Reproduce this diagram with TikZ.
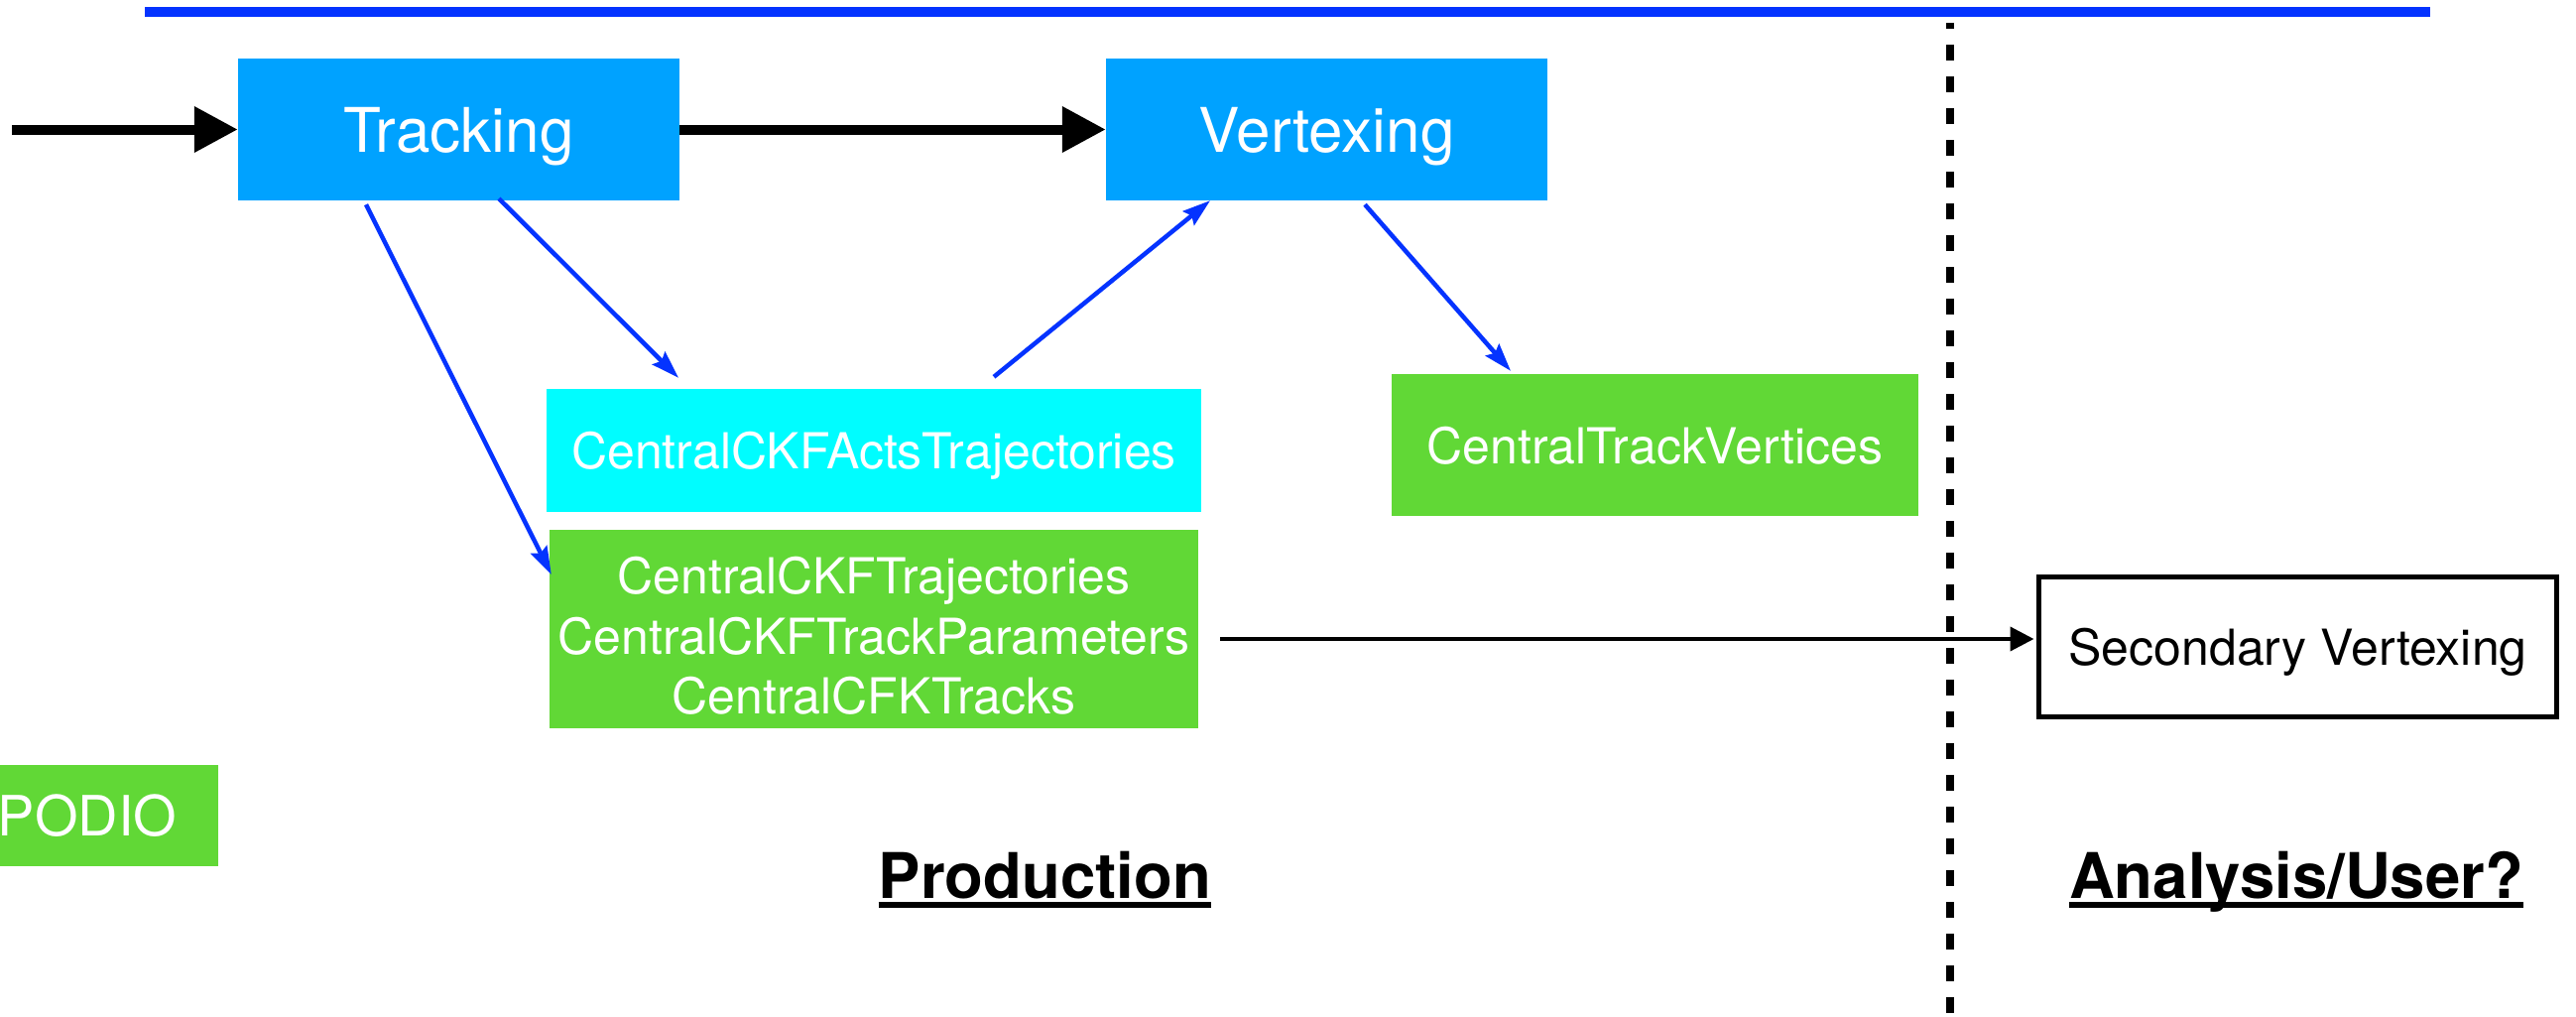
\documentclass[tikz,border=0pt]{standalone}
\usepackage{fontspec}
\setmainfont{TeX Gyre Heros}
\usetikzlibrary{arrows.meta,calc}
\definecolor{trkblue}{HTML}{00A2FF}
\definecolor{actcyan}{HTML}{00FDFF}
\definecolor{kgreen}{HTML}{61D836}
\definecolor{lineblue}{HTML}{0433FF}
\begin{document}
\begin{tikzpicture}[x=1pt,y=-1pt,
  box/.style={inner sep=0pt, text=white, align=center, text depth=0pt},
  algbox/.style={box, fill=trkblue, minimum width=445pt, minimum height=143pt, font=\fontsize{62}{70}\selectfont},
  colbox/.style={box, fill=kgreen, font=\fontsize{50}{60.5}\selectfont},
  flow/.style={line width=10pt, -{Triangle[length=44pt,width=44pt]}},
  dataflow/.style={lineblue, line width=4.5pt, -{Stealth[length=28pt,width=18pt,inset=4pt]}},
  userflow/.style={line width=4pt, -{Triangle[length=24pt,width=24pt]}},
  heading/.style={anchor=base, inner sep=0pt, font=\bfseries\fontsize{63.5}{70}\selectfont},
  uline/.style={line width=6pt}
]
\useasboundingbox (0,0) rectangle (2597,1025);

% top rule
\coordinate (ruleL) at (146,12);
\coordinate (ruleR) at (2450,12);
\draw[lineblue, line width=10.5pt] (ruleL) -- (ruleR);

% separator
\coordinate (sepT) at (1966,23);
\coordinate (sepB) at (1966,1030);
\draw[line width=8pt, dash pattern=on 16pt off 16pt, dash phase=10pt] (sepT) -- (sepB);

% algorithms
\node[algbox] (trk) at (462.5,130.5) {Tracking};
\node[algbox] (vx) at (1337.5,130.5) {Vertexing};

% collections
\node[colbox, fill=actcyan, minimum width=660pt, minimum height=124pt] (cy) at (881,454) {CentralCKFActsTrajectories};
\node[colbox, minimum width=654pt, minimum height=200pt] (gb) at (881,634) {\rule{0pt}{50pt}CentralCKFTrajectories\\CentralCKFTrackParameters\\CentralCFKTracks};
\node[colbox, minimum width=531pt, minimum height=143pt] (tv) at (1668.5,448.5) {CentralTrackVertices};
\node[colbox, minimum width=264pt, minimum height=102pt, font=\fontsize{56}{60}\selectfont] (podio) at (88,822) {PODIO};

% user box
\node[draw, line width=5pt, inner sep=0pt, text depth=0pt, minimum width=522pt, minimum height=141pt, font=\fontsize{50}{60}\selectfont] (sv) at (2316.5,652) {Secondary Vertexing};

% main flow
\coordinate (in) at (12,130.5);
\draw[flow] (in) -- (trk.west);
\draw[flow] (trk.east) -- (vx.west);

% data flow
\draw[dataflow] ([xshift=-93.5pt,yshift=-4pt]trk.south) -- ([xshift=2pt,yshift=55pt]gb.west);
\draw[dataflow] ([xshift=40.5pt,yshift=2pt]trk.south) -- ([xshift=-197pt,yshift=11pt]cy.north);
\draw[dataflow] ([xshift=121pt,yshift=12pt]cy.north) -- ([xshift=-117.5pt]vx.south);
\draw[dataflow] ([xshift=38.5pt,yshift=-4pt]vx.south) -- ([xshift=-145.5pt,yshift=3pt]tv.north);

% to analysis
\draw[userflow] ([xshift=22pt,yshift=-10pt]gb.east) -- ([xshift=-2.5pt,yshift=8pt]sv.west);

% headings
\node[heading] (prod) at (1053.5,905) {Production};
\draw[uline] ([yshift=-6.5pt]prod.base west) -- ([yshift=-6.5pt]prod.base east);
\node[heading] (ana) at (2315,905) {Analysis/User?};
\draw[uline] ([yshift=-6.5pt]ana.base west) -- ([yshift=-6.5pt]ana.base east);
\end{tikzpicture}
\end{document}
